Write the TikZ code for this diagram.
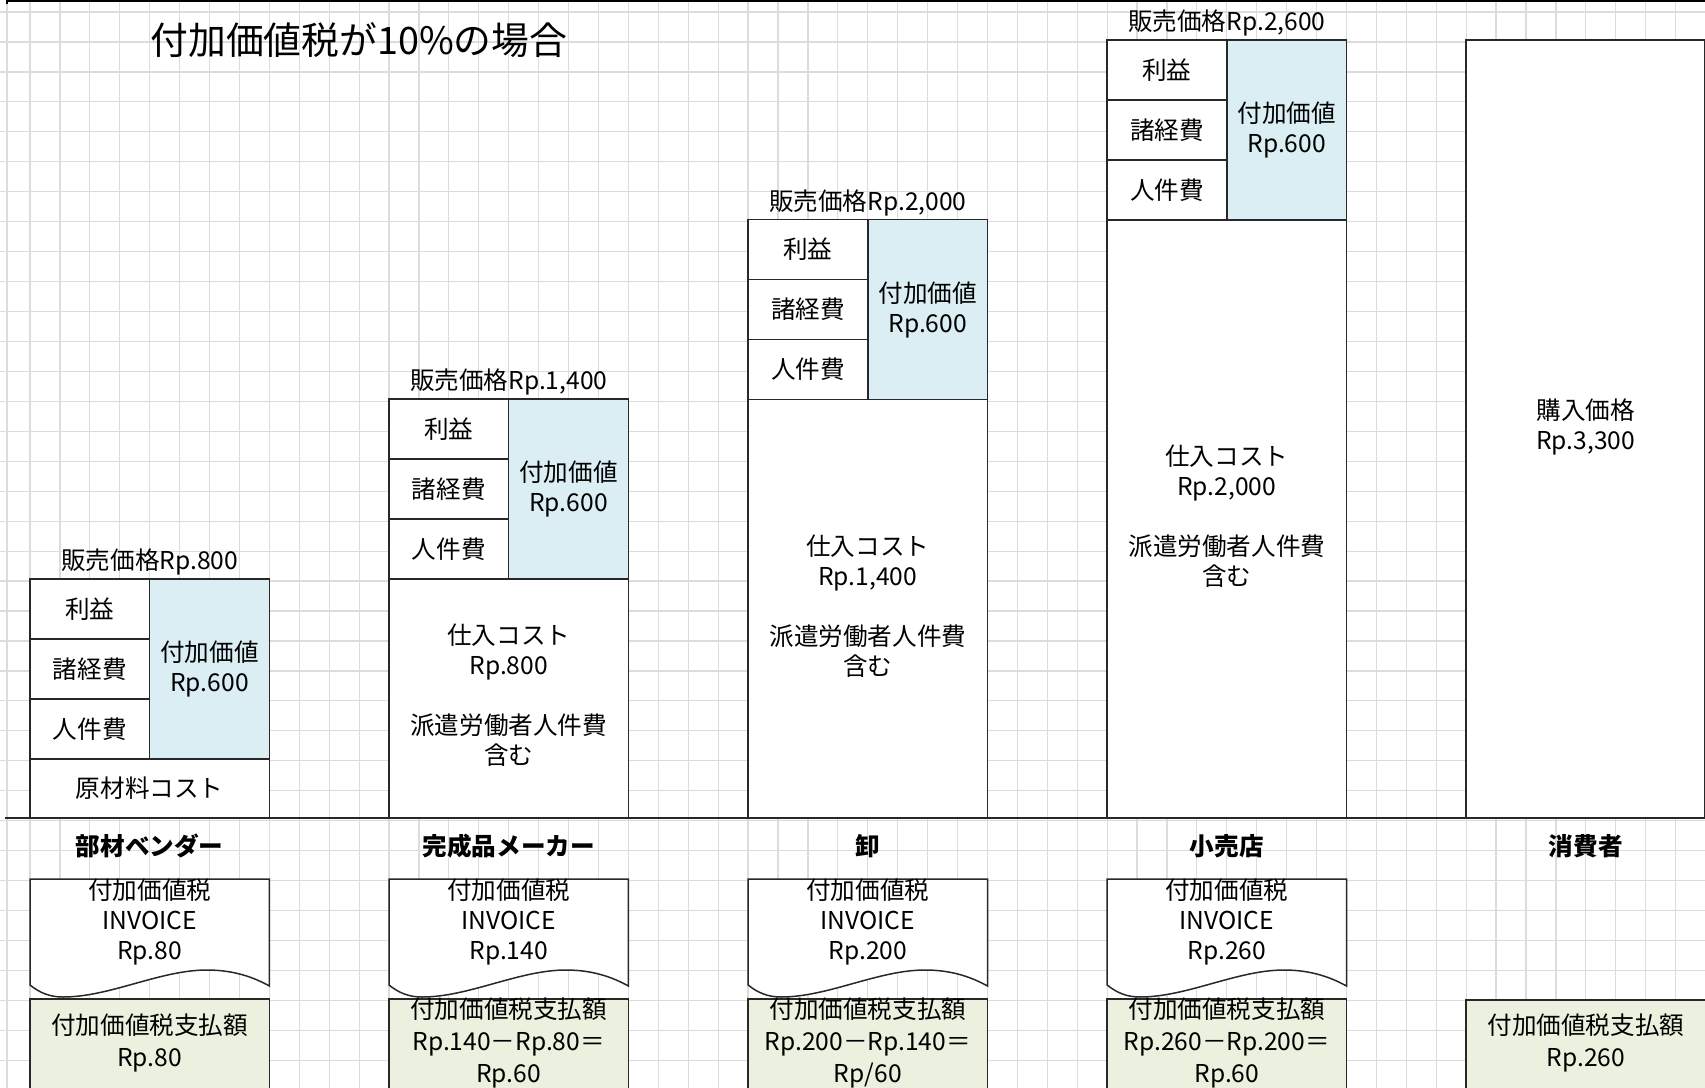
\documentclass[tikz,border=0pt]{standalone}
\usepackage{fontspec}
\setmainfont{Noto Sans CJK JP}
\definecolor{gridc}{RGB}{220,220,220}
\definecolor{vblue}{RGB}{218,238,243}
\definecolor{vgreen}{RGB}{235,241,222}
\definecolor{edgec}{RGB}{40,40,40}
\tikzset{
  gridline/.style={draw=gridc, line width=0.6pt},
  boxline/.style={draw=edgec, line width=0.75pt},
  txt/.style={font=\fontsize{12.3}{15}\selectfont, align=center, inner sep=0pt},
  gtxt/.style={font=\fontsize{12.3}{16}\selectfont, align=center, inner sep=0pt},
  lbl/.style={font=\fontsize{12.3}{15}\selectfont\bfseries, inner sep=0pt},
  ttl/.style={font=\fontsize{18.9}{22}\selectfont, inner sep=0pt, anchor=west}
}
% #1 name, #2 left x, #3 top y, #4 price, #5 cost text
\newcommand{\vatcol}[5]{%
  \draw[boxline, fill=white] (#2,#3) rectangle ({#2+239.4},818);
  \draw[boxline, fill=vblue] ({#2+119.7},#3) rectangle ({#2+239.4},{#3+180});
  \draw[boxline] (#2,{#3+60}) -- ({#2+119.7},{#3+60});
  \draw[boxline] (#2,{#3+120}) -- ({#2+119.7},{#3+120});
  \draw[boxline] (#2,{#3+180}) -- ({#2+239.4},{#3+180});
  \node[txt] (#1-price) at ({#2+119.7},{#3-17}) {販売価格#4};
  \node[txt] (#1-profit) at ({#2+59.85},{#3+30}) {利益};
  \node[txt] (#1-exp) at ({#2+59.85},{#3+90}) {諸経費};
  \node[txt] (#1-labor) at ({#2+59.85},{#3+150}) {人件費};
  \node[txt] (#1-va) at ({#2+179.55},{#3+90}) {付加価値\\Rp.600};
  \node[txt] (#1-cost) at ({#2+119.7},{(#3+180+818)/2-3}) {#5};
}
% #1 name, #2 left x, #3 amount
\newcommand{\vatdoc}[3]{%
  \draw[boxline, fill=white] (#2,879) -- (#2,985)
    .. controls ({#2+10},993) and ({#2+20},997) .. ({#2+33},997)
    .. controls ({#2+80},997) and ({#2+130},970) .. ({#2+177},970)
    .. controls ({#2+205},970) and ({#2+225},978) .. ({#2+239.4},986)
    -- ({#2+239.4},879) -- cycle;
  \node[txt] (#1-inv) at ({#2+119.7},922) {付加価値税\\INVOICE\\#3};
}
% #1 name, #2 left x, #3 text
\newcommand{\vatpay}[3]{%
  \draw[boxline, fill=vgreen] (#2,999) rectangle ({#2+239.4},1100);
  \node[gtxt] (#1-pay) at ({#2+119.7},1042.5) {#3};
}
\begin{document}
\begin{tikzpicture}[x=0.5pt,y=-0.5pt]
\useasboundingbox (0,0) rectangle (1705,1088);
\clip (0,0) rectangle (1705,1088);
\fill[white] (0,0) rectangle (1705,1088);
% grid
\foreach \k in {0,...,56} \draw[gridline] ({30+29.92*\k},0) -- ({30+29.92*\k},1088);
\draw[gridline] (7,0) -- (7,1088);
\foreach \j in {0,...,36} \draw[gridline] (0,{12+29.95*\j}) -- (1705,{12+29.95*\j});
% top frame
\draw[black, line width=1pt] (7,4) -- (7,0.8) -- (1705,0.8);
% title
\node[ttl] (title) at (150,40.5) {付加価値税が10\%の場合};
% columns
\vatcol{c1}{30}{579}{Rp.800}{}
\draw[boxline] (30,759) -- (269.4,759);
\node[txt] (c1-raw) at (149.7,788) {原材料コスト};
\vatcol{c2}{389}{399}{Rp.1,400}{仕入コスト\\Rp.800\\[15pt]派遣労働者人件費\\含む}
\vatcol{c3}{748.1}{219.5}{Rp.2,000}{仕入コスト\\Rp.1,400\\[15pt]派遣労働者人件費\\含む}
\vatcol{c4}{1107.1}{40}{Rp.2,600}{仕入コスト\\Rp.2,000\\[15pt]派遣労働者人件費\\含む}
\draw[boxline, fill=white] (1466.1,40) rectangle (1704.5,818);
\node[txt] (c5-buy) at (1585.8,427) {購入価格\\Rp.3,300};
% base line
\draw[edgec, line width=1.3pt] (5,818) -- (1705,818);
% actor labels
\node[lbl] (l1) at (149.7,846) {部材ベンダー};
\node[lbl] (l2) at (508.7,846) {完成品メーカー};
\node[lbl] (l3) at (867.8,846) {卸};
\node[lbl] (l4) at (1226.8,846) {小売店};
\node[lbl] (l5) at (1585.8,846) {消費者};
% invoices
\vatdoc{d1}{30}{Rp.80}
\vatdoc{d2}{389}{Rp.140}
\vatdoc{d3}{748.1}{Rp.200}
\vatdoc{d4}{1107.1}{Rp.260}
% payments
\vatpay{p1}{30}{付加価値税支払額\\Rp.80}
\vatpay{p2}{389}{付加価値税支払額\\Rp.140－Rp.80＝\\Rp.60}
\vatpay{p3}{748.1}{付加価値税支払額\\Rp.200－Rp.140＝\\Rp/60}
\vatpay{p4}{1107.1}{付加価値税支払額\\Rp.260－Rp.200＝\\Rp.60}
\draw[boxline, fill=vgreen] (1466.1,1000) rectangle (1710,1100);
\node[gtxt] (p5-pay) at (1585.8,1042.5) {付加価値税支払額\\Rp.260};
\end{tikzpicture}
\end{document}
